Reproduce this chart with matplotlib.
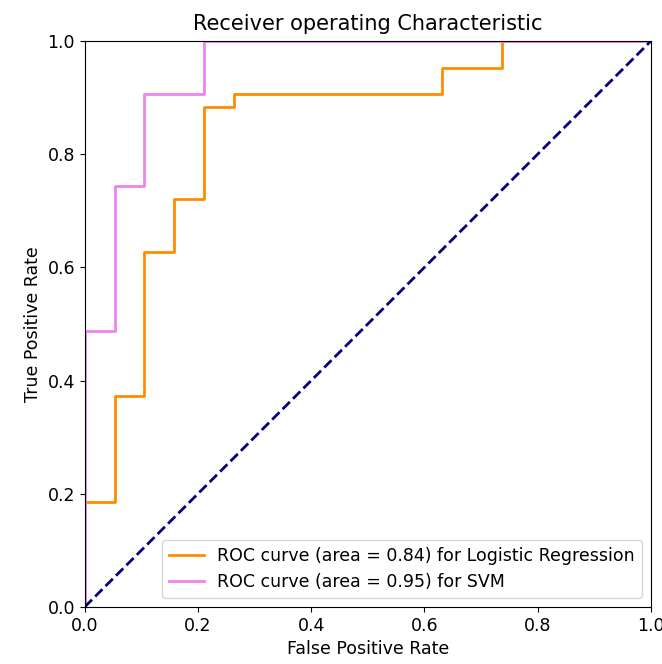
import matplotlib
matplotlib.use("Agg")
import matplotlib.pyplot as plt

# ROC points
fpr_lr = [0.0, 0.0, 0.053, 0.053, 0.105, 0.105, 0.158, 0.158, 0.211, 0.211, 0.263, 0.263, 0.632, 0.632, 0.737, 0.737, 1.0]
tpr_lr = [0.0, 0.186, 0.186, 0.372, 0.372, 0.628, 0.628, 0.721, 0.721, 0.884, 0.884, 0.907, 0.907, 0.953, 0.953, 1.0, 1.0]

fpr_svm = [0.0, 0.0, 0.053, 0.053, 0.105, 0.105, 0.211, 0.211, 1.0]
tpr_svm = [0.0, 0.488, 0.488, 0.744, 0.744, 0.907, 0.907, 1.0, 1.0]

auc_lr = 0.84
auc_svm = 0.95

fig = plt.figure(figsize=(6.62, 6.64), dpi=100)
ax = fig.add_axes([0.128, 0.086, 0.855, 0.852])

ax.plot(fpr_lr, tpr_lr, color="darkorange", lw=2,
        label="ROC curve (area = %0.2f) for Logistic Regression" % auc_lr)
ax.plot(fpr_svm, tpr_svm, color="violet", lw=2,
        label="ROC curve (area = %0.2f) for SVM" % auc_svm)
ax.plot([0, 1], [0, 1], color="navy", lw=2, linestyle="--")

ax.set_xlim(0.0, 1.0)
ax.set_ylim(0.0, 1.0)
ax.set_xlabel("False Positive Rate", fontsize=12.5)
ax.set_ylabel("True Positive Rate", fontsize=12.5)
ax.set_title("Receiver operating Characteristic", fontsize=15, pad=8)
ax.tick_params(labelsize=12.5)
ax.legend(loc="lower right", fontsize=12.5)

fig.savefig("out.png", dpi=100)
